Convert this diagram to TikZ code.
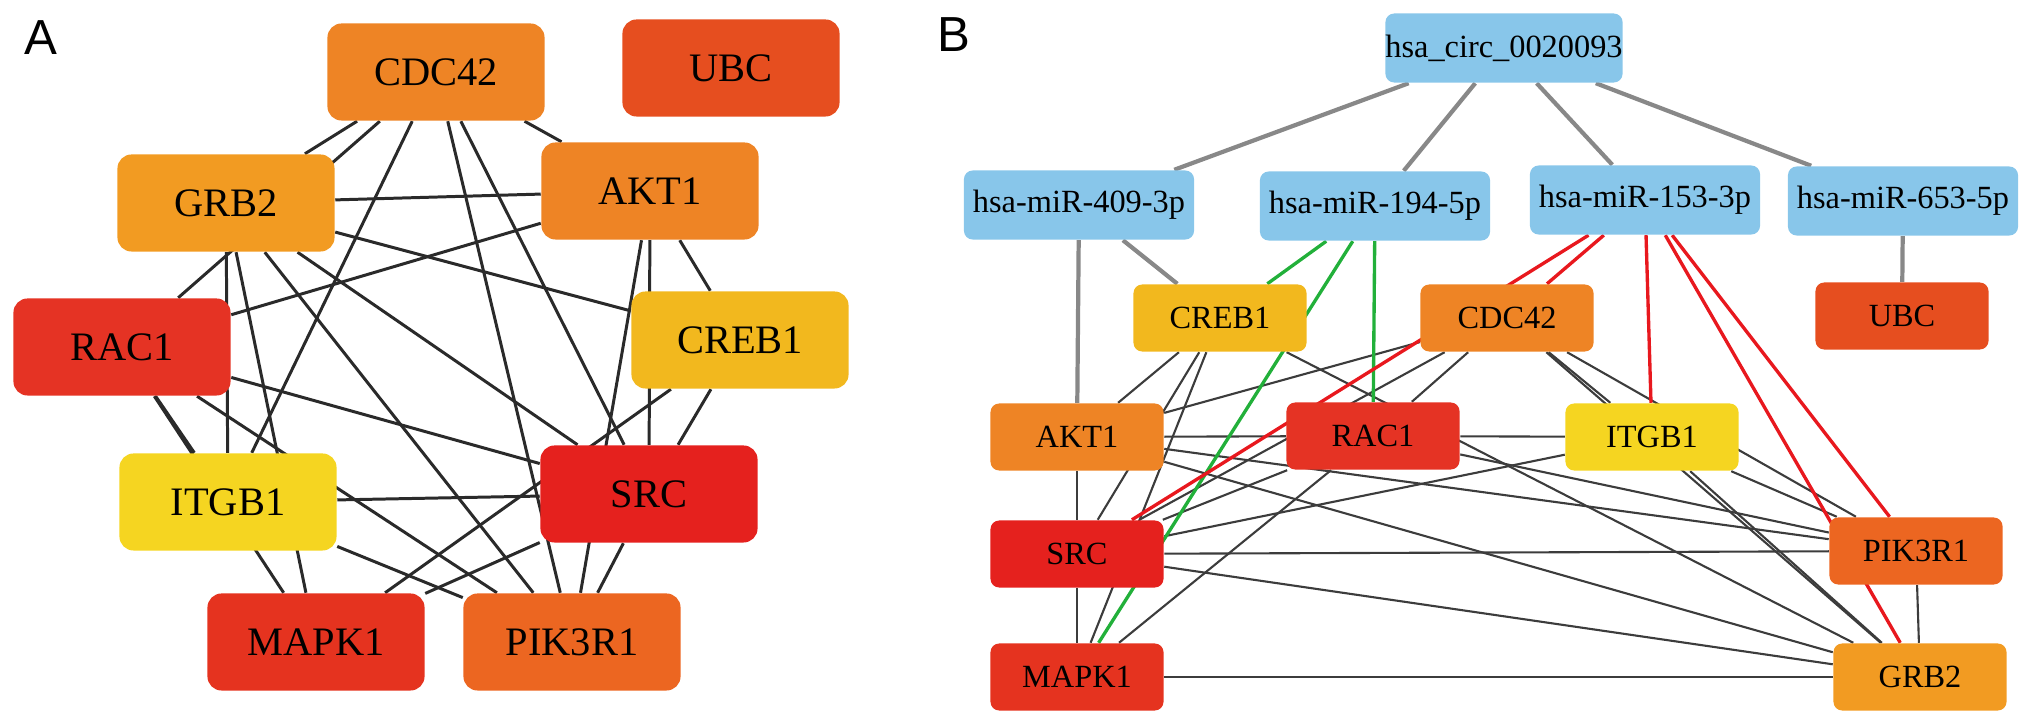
\documentclass[tikz,border=0pt]{standalone}
\usepackage{fontspec}
\setmainfont{Liberation Serif}
\newfontfamily\panelfont{Liberation Sans}
\usetikzlibrary{positioning,backgrounds}

\definecolor{cCdc}{HTML}{EE8425}
\definecolor{cUbc}{HTML}{E64E1F}
\definecolor{cGrb}{HTML}{F29B22}
\definecolor{cAkt}{HTML}{EE8425}
\definecolor{cRac}{HTML}{E53324}
\definecolor{cCreb}{HTML}{F2B81E}
\definecolor{cItg}{HTML}{F5D521}
\definecolor{cSrc}{HTML}{E5211E}
\definecolor{cMap}{HTML}{E5331F}
\definecolor{cPik}{HTML}{EC6621}
\definecolor{mirblue}{HTML}{88C6EA}
\definecolor{lineA}{HTML}{2A2A2A}
\definecolor{lineB}{HTML}{3C3C3C}
\definecolor{regGray}{HTML}{888888}
\definecolor{regGreen}{HTML}{22B03A}
\definecolor{regRed}{HTML}{E8181E}

\tikzset{
  bigbox/.style={rectangle, rounded corners=4pt, inner sep=0pt,
    minimum width=2.17cm, minimum height=0.97cm, font=\fontsize{11.5}{13}\selectfont},
  smallbox/.style={rectangle, rounded corners=2.5pt, inner sep=0pt,
    minimum width=1.73cm, minimum height=0.67cm, font=\fontsize{9.2}{11}\selectfont},
  mirbox/.style={rectangle, rounded corners=2.5pt, inner sep=0pt, fill=mirblue,
    minimum width=2.30cm, minimum height=0.69cm, font=\fontsize{9.2}{11}\selectfont},
  panel/.style={font={\panelfont\fontsize{14}{16}\selectfont}},
  ppiA/.style={draw=lineA, line width=0.85pt},
  ppiB/.style={draw=lineB, line width=0.6pt},
  regB/.style={draw=regGray, line width=1.2pt},
  greenB/.style={draw=regGreen, line width=0.95pt},
  redB/.style={draw=regRed, line width=0.95pt}
}

\begin{document}
\begin{tikzpicture}[x=0.01cm, y=-0.01cm]
\useasboundingbox (0,0) rectangle (2032,725);

% panel A
\node[panel] (labA) at (41,38) {A};
\node[bigbox, fill=cCdc] (cdcA) at (436,72) {CDC42};
\node[bigbox, fill=cUbc] (ubcA) at (731,68) {UBC};
\node[bigbox, fill=cGrb] (grbA) at (226,203) {GRB2};
\node[bigbox, fill=cAkt] (aktA) at (650,191) {AKT1};
\node[bigbox, fill=cRac] (racA) at (122,347) {RAC1};
\node[bigbox, fill=cCreb] (crebA) at (740,340) {CREB1};
\node[bigbox, fill=cItg] (itgA) at (228,502) {ITGB1};
\node[bigbox, fill=cSrc] (srcA) at (649,494) {SRC};
\node[bigbox, fill=cMap] (mapA) at (316,642) {MAPK1};
\node[bigbox, fill=cPik] (pikA) at (572,642) {PIK3R1};

% panel B
\node[panel] (labB) at (954,35) {B};
\node[mirbox] (circ) at (1504,48) {hsa\_circ\_0020093};
\node[mirbox] (m409) at (1079,205) {hsa-miR-409-3p};
\node[mirbox] (m194) at (1375,206) {hsa-miR-194-5p};
\node[mirbox] (m153) at (1645,200) {hsa-miR-153-3p};
\node[mirbox] (m653) at (1903,201) {hsa-miR-653-5p};
\node[smallbox, fill=cCreb] (crebB) at (1220,318) {CREB1};
\node[smallbox, fill=cCdc] (cdcB) at (1507,318) {CDC42};
\node[smallbox, fill=cUbc] (ubcB) at (1902,316) {UBC};
\node[smallbox, fill=cAkt] (aktB) at (1077,437) {AKT1};
\node[smallbox, fill=cRac] (racB) at (1373,436) {RAC1};
\node[smallbox, fill=cItg] (itgB) at (1652,437) {ITGB1};
\node[smallbox, fill=cSrc] (srcB) at (1077,554) {SRC};
\node[smallbox, fill=cPik] (pikB) at (1916,551) {PIK3R1};
\node[smallbox, fill=cMap] (mapB) at (1077,677) {MAPK1};
\node[smallbox, fill=cGrb] (grbB) at (1920,677) {GRB2};

\begin{pgfonlayer}{background}
% interactions, panel A
\path[ppiA] (cdcA) edge (grbA) edge (racA) edge (itgA) edge (pikA) edge (srcA) edge (aktA)
    (grbA) edge (aktA) edge (crebA) edge (itgA) edge (mapA) edge (pikA) edge (srcA)
    (aktA) edge (racA) edge (crebA) edge (srcA) edge (pikA)
    (crebA) edge (srcA) edge (mapA)
    (srcA) edge (itgA) edge (racA) edge (pikA) edge (mapA)
    (racA) edge (mapA) edge (itgA) edge (pikA)
    (itgA) edge (pikA);

% interactions, panel B
\path[ppiB] (cdcB) edge (grbB) edge (racB) edge (itgB) edge (pikB) edge (srcB) edge (aktB)
    (grbB) edge (aktB) edge (crebB) edge (itgB) edge (mapB) edge (pikB) edge (srcB)
    (aktB) edge (racB) edge (crebB) edge (srcB) edge (pikB)
    (crebB) edge (srcB) edge (mapB)
    (srcB) edge (itgB) edge (racB) edge (pikB) edge (mapB)
    (racB) edge (mapB) edge (itgB) edge (pikB)
    (itgB) edge (pikB);
\path[regB] (circ) edge (m409) edge (m194) edge (m153) edge (m653)
    (m409) edge (aktB) edge (crebB)
    (m653) edge (ubcB);
\path[greenB] (m194) edge (crebB) edge (mapB) edge (racB);
\path[redB] (m153) edge (cdcB) edge (srcB) edge (itgB) edge (pikB) edge (grbB);
\end{pgfonlayer}
\end{tikzpicture}
\end{document}
